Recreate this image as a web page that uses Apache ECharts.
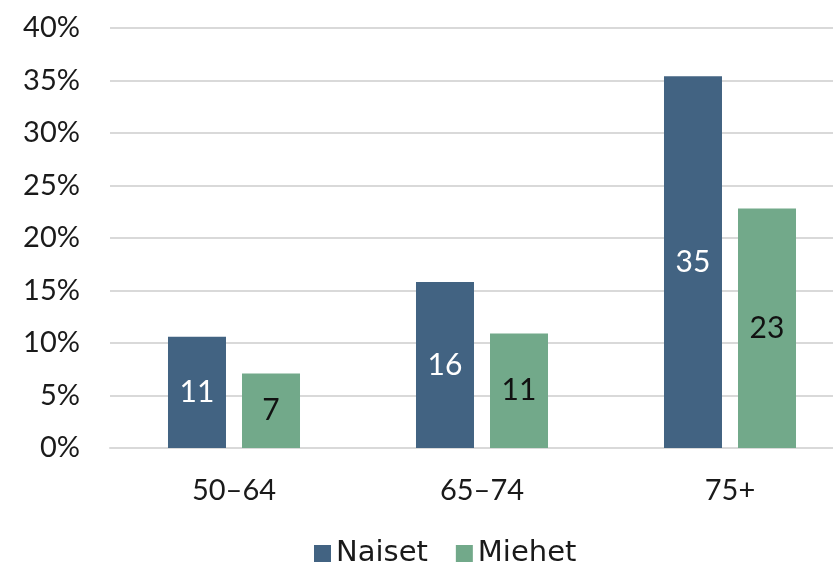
<!DOCTYPE html>
<html>
<head>
    <meta charset="utf-8">
    <title>Naiset ja miehet</title>
    <script src="https://cdn.jsdelivr.net/npm/echarts@6/dist/echarts.min.js"></script>
    <style>
        html, body { margin: 0; padding: 0; background: #fff; overflow: hidden; }
        /* plot area runs past the right edge in the original, so the canvas is a bit wider than the window */
        #main { width: 854px; height: 563px; }
    </style>
</head>
<body>
<div id="main"></div>
<script type="text/javascript">
    // data
    var categories = ['50–64', '65–74', '75+'];
    var naiset = [10.6, 15.8, 35.4];
    var miehet = [7.1, 10.9, 22.8];
    var seriesNames = ['Naiset', 'Miehet'];

    var font = 'Lato, "DejaVu Sans", sans-serif';
    var textColor = '#1a1a1a';

    var myChart = echarts.init(document.getElementById('main'));

    var option = {
        animation: false,
        textStyle: { fontFamily: font },
        legend: {
            data: seriesNames,
            top: 534,
            left: 309,
            itemWidth: 17,
            itemHeight: 17,
            itemGap: 28,
            icon: 'rect',
            textStyle: { fontSize: 29, color: textColor, fontFamily: '"DejaVu Sans", sans-serif' }
        },
        grid: {
            left: 110,
            top: 28,
            right: 0,
            height: 420,
            containLabel: false
        },
        xAxis: {
            type: 'category',
            data: categories,
            axisLine: { lineStyle: { color: '#d9d9d9', width: 2 } },
            axisTick: { show: false },
            axisLabel: { fontSize: 29, color: textColor, margin: 28, fontFamily: font }
        },
        yAxis: {
            type: 'value',
            min: 0,
            max: 40,
            interval: 5,
            axisLine: { show: false },
            axisTick: { show: false },
            splitLine: { lineStyle: { color: '#d9d9d9', width: 2 } },
            axisLabel: {
                fontSize: 29, color: textColor, margin: 30, fontFamily: font,
                formatter: '{value}%'
            }
        },
        series: [{
            name: 'Naiset',
            type: 'bar',
            data: naiset,
            barWidth: 58,
            barGap: '27.6%',
            itemStyle: { color: '#426382' },
            label: {
                show: true, position: 'inside', color: '#fff', fontSize: 30, fontFamily: font,
                formatter: function (p) { return Math.round(p.value); }
            }
        }, {
            name: 'Miehet',
            type: 'bar',
            data: miehet,
            barWidth: 58,
            itemStyle: { color: '#72a98a' },
            label: {
                show: true, position: 'inside', color: '#111', fontSize: 30, fontFamily: font,
                formatter: function (p) { return Math.round(p.value); }
            }
        }]
    };

    myChart.setOption(option);
</script>
</body>
</html>
